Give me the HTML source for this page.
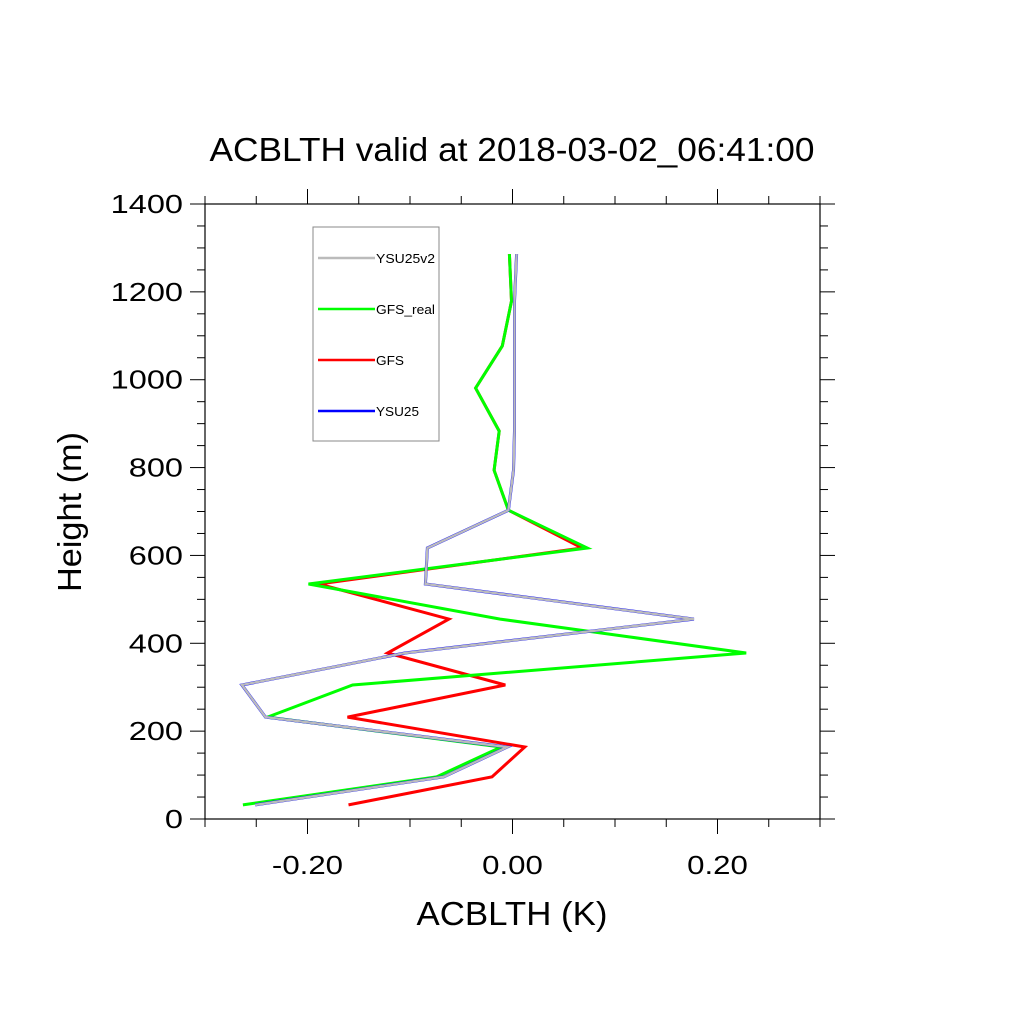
<!DOCTYPE html>
<html><head><meta charset="utf-8"><style>
body{margin:0;background:#fff}
svg text{font-family:"Liberation Sans",sans-serif;fill:#000}
</style></head><body>
<svg id="chart" width="1024" height="1024" xmlns="http://www.w3.org/2000/svg">
<rect width="1024" height="1024" fill="#fff"/>
<text x="512" y="161" font-size="33" text-anchor="middle" textLength="605" lengthAdjust="spacingAndGlyphs">ACBLTH valid at 2018-03-02_06:41:00</text>
<g id="axes"></g>
<g id="series"></g>
<rect x="205" y="204" width="615" height="615" fill="none" stroke="#000" stroke-width="1.2"/>
<text x="512" y="925" font-size="33" text-anchor="middle" textLength="191" lengthAdjust="spacingAndGlyphs">ACBLTH (K)</text>
<text transform="translate(81,512) rotate(-90)" font-size="33" text-anchor="middle" textLength="160" lengthAdjust="spacingAndGlyphs">Height (m)</text>
<g>
<rect x="313" y="227" width="126" height="214" fill="#fff" stroke="#888" stroke-width="1"/>
<line x1="318" y1="258" x2="375" y2="258" stroke="#bbbbbb" stroke-width="2.5"/>
<text x="376" y="263" font-size="13" textLength="59" lengthAdjust="spacingAndGlyphs">YSU25v2</text>
<line x1="318" y1="309" x2="375" y2="309" stroke="#00ff00" stroke-width="2.5"/>
<text x="376" y="314" font-size="13" textLength="59" lengthAdjust="spacingAndGlyphs">GFS_real</text>
<line x1="318" y1="360" x2="375" y2="360" stroke="#ff0000" stroke-width="2.5"/>
<text x="376" y="365" font-size="13" textLength="28" lengthAdjust="spacingAndGlyphs">GFS</text>
<line x1="318" y1="411" x2="375" y2="411" stroke="#0000ff" stroke-width="2.5"/>
<text x="376" y="416" font-size="13" textLength="43" lengthAdjust="spacingAndGlyphs">YSU25</text>
</g>
</svg>
<script>
const heights = [32, 96, 164, 232, 305, 378, 455, 535, 617, 703, 794, 883, 981, 1077, 1179, 1286];
const ysu25v2 = [-0.251, -0.067, -0.005, -0.241, -0.264, -0.105, 0.177, -0.085, -0.083, -0.004, 0.001, 0.002, 0.002, 0.002, 0.002, 0.004];
const ysu25 = [-0.251, -0.067, -0.005, -0.241, -0.264, -0.105, 0.177, -0.085, -0.083, -0.004, 0.001, 0.002, 0.002, 0.002, 0.002, 0.004];
const gfsReal = [-0.263, -0.074, -0.011, -0.239, -0.156, 0.228, -0.012, -0.199, 0.073, -0.004, -0.018, -0.013, -0.036, -0.010, -0.001, -0.003];
const gfs = [-0.160, -0.020, 0.012, -0.161, -0.007, -0.122, -0.062, -0.189, 0.068, -0.004, -0.018, -0.013, -0.036, -0.010, -0.001, -0.003];
const xTicks = [-0.2, 0, 0.2];
const xTickLabels = ["-0.20", "0.00", "0.20"];
const yTicks = [0, 200, 400, 600, 800, 1000, 1200, 1400];

const NS = "http://www.w3.org/2000/svg";
const X0 = 205, X1 = 820, Y0 = 819, Y1 = 204;
const xMin = -0.3, xMax = 0.3, yMin = 0, yMax = 1400;
const sx = v => X0 + (v - xMin) / (xMax - xMin) * (X1 - X0);
const sy = v => Y0 - (v - yMin) / (yMax - yMin) * (Y0 - Y1);
const axes = document.getElementById('axes');
const series = document.getElementById('series');
function mk(tag, attrs, parent) {
  const e = document.createElementNS(NS, tag);
  for (const k in attrs) e.setAttribute(k, attrs[k]);
  parent.appendChild(e);
  return e;
}
function stretch(t, f) {
  const w = t.getComputedTextLength();
  t.setAttribute('textLength', (w * f).toFixed(1));
  t.setAttribute('lengthAdjust', 'spacingAndGlyphs');
}
for (let i = 0; i <= 12; i++) {
  const v = xMin + i * 0.05;
  const major = Math.abs(Math.round(v * 100) % 20) === 0 && Math.abs(v) < 0.29;
  const len = major ? 15 : 8;
  const x = sx(v);
  const t1 = mk('line', {x1: x, y1: Y0, x2: x, y2: Y0 + len, stroke: '#000', 'stroke-width': 1}, axes);
  
  
  const t2 = mk('line', {x1: x, y1: Y1, x2: x, y2: Y1 - len, stroke: '#000', 'stroke-width': 1}, axes);
  
  
}
xTicks.forEach((v, i) => {
  const t = mk('text', {x: sx(v), y: 874, 'font-size': 26, 'text-anchor': 'middle'}, axes);
  t.textContent = xTickLabels[i];
  
  
  stretch(t, 1.2);
});
for (let v = 0; v <= 1400; v += 50) {
  const major = v % 200 === 0;
  const len = major ? 15 : 8;
  const y = sy(v);
  const a = mk('line', {x1: X0, y1: y, x2: X0 - len, y2: y, stroke: '#000', 'stroke-width': 1}, axes);
  
  
  const b = mk('line', {x1: X1, y1: y, x2: X1 + len, y2: y, stroke: '#000', 'stroke-width': 1}, axes);
  
  
}
yTicks.forEach(v => {
  const t = mk('text', {x: 183, y: sy(v) + 9, 'font-size': 26, 'text-anchor': 'end'}, axes);
  t.textContent = String(v);
  
  
  stretch(t, 1.25);
});
function drawLine(vals, color, name, w) {
  const pts = vals.map((v, i) => sx(v).toFixed(1) + ',' + sy(heights[i]).toFixed(1)).join(' ');
  const p = mk('polyline', {points: pts, fill: 'none', stroke: color, 'stroke-width': w, 'stroke-linejoin': 'miter'}, series);
  
  
}
drawLine(gfs, '#ff0000', 'series-gfs', 3);
drawLine(gfsReal, '#00ff00', 'series-gfs-real', 3);
drawLine(ysu25, '#0000ff', 'series-ysu25', 3);
drawLine(ysu25v2, '#bbbbbb', 'series-ysu25v2', 2.4);
</script>
</body></html>
